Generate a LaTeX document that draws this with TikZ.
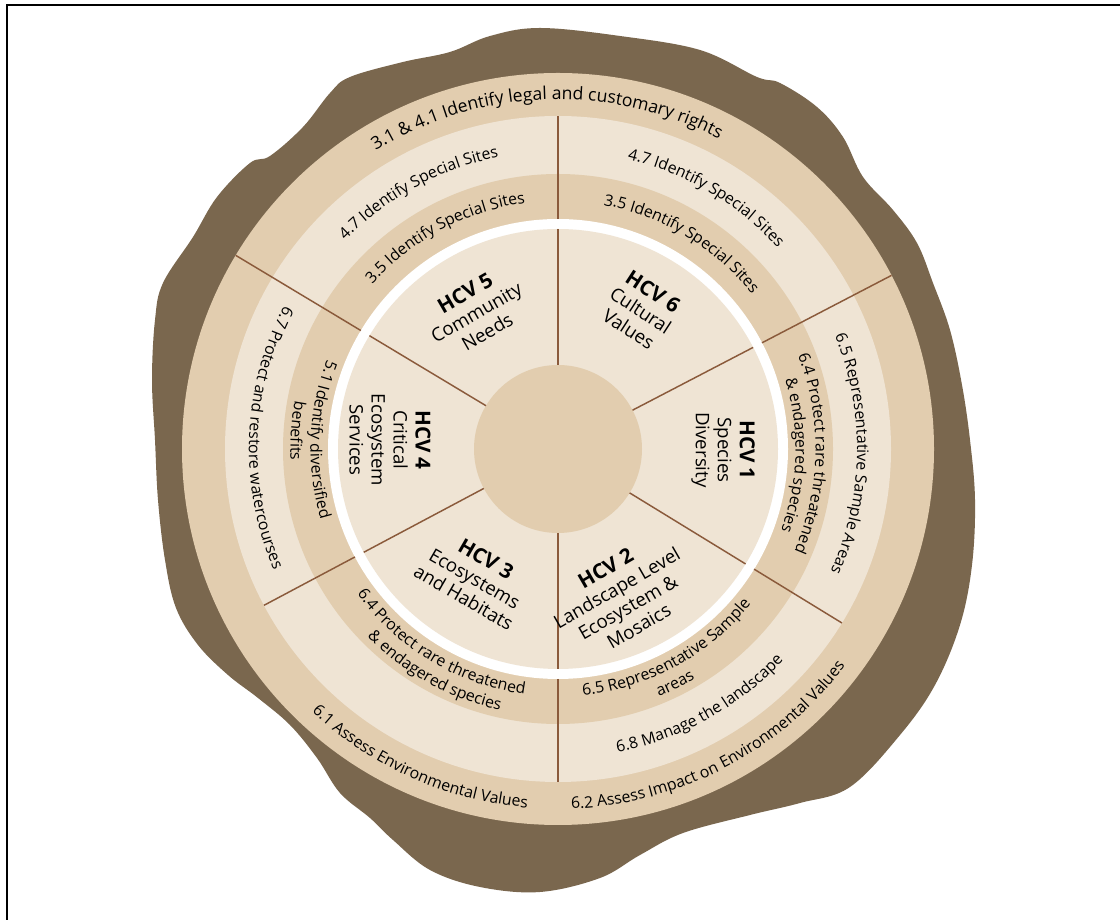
\documentclass[tikz,border=0pt]{standalone}
\usepackage{fontspec}
\setmainfont{Open Sans}
\usetikzlibrary{decorations.text}
\definecolor{bark}{HTML}{7A674E}
\definecolor{tanband}{HTML}{E2CDAF}
\definecolor{lightband}{HTML}{EFE4D4}
\definecolor{divline}{HTML}{8A5A3B}
\definecolor{ringtxt}{HTML}{4A4743}
\newcommand{\rf}{\fontsize{11.9}{13}\selectfont}
\newcommand{\rfbig}{\fontsize{13.2}{14}\selectfont}
\tikzset{
  divider/.style={draw=divline, line width=1.1pt},
  ringtext/.style={color=ringtxt},
  hcv/.style={align=center, font=\fontsize{14}{16.5}\selectfont, text=black, inner sep=0pt}
}
\newcommand{\hb}[1]{{\fontsize{15.5}{16.5}\selectfont\bfseries #1}}
\newcommand{\cwtext}[4][\rf]{\path[ringtext, decoration={text along path, text={|#1|#4}, text align=center}, decorate] (#2+75:#3) arc[start angle=#2+75, end angle=#2-75, radius=#3];}
\newcommand{\ccwtext}[4][\rf]{\path[ringtext, decoration={text along path, text={|#1|#4}, text align=center}, decorate] (#2-75:#3) arc[start angle=#2-75, end angle=#2+75, radius=#3];}
\begin{document}
\begin{tikzpicture}[x=0.75pt,y=0.75pt]
\useasboundingbox (0,0) rectangle (1120,920);
\fill[white] (0,0) rectangle (1120,920);
\draw[line width=1.6pt] (7,0) -- (7,915) -- (1120,915);
% bark
\fill[bark] plot[smooth cycle, tension=0.6] coordinates {
(540,892) (620,884) (700,870) (757,843) (780,837) (817,813) (843,783) (863,743)
(893,710) (917,677) (933,637) (950,590) (962,535) (970,480) (975,420) (972,355)
(960,295) (935,235) (900,185) (850,133) (800,117) (750,105) (683,87) (640,65)
(600,42) (540,28) (480,33) (430,50) (393,80) (370,102) (340,127) (317,162)
(290,195) (258,222) (228,245) (198,275) (176,312) (165,360) (158,420) (155,480)
(152,540) (155,600) (163,637) (193,683) (217,723) (250,757) (270,764) (303,793)
(330,827) (350,843) (403,858) (450,868) (490,884)};
\begin{scope}[shift={(558,471)}]
  \fill[tanband] (0,0) circle[radius=376];
  \fill[lightband] (0,0) circle[radius=333];
  \fill[tanband] (0,0) circle[radius=275];
  \fill[white] (0,0) circle[radius=230];
  \fill[lightband] (0,0) circle[radius=220];
  \fill[tanband] (0,0) circle[radius=84];
  \foreach \a/\r in {90/333, 27.5/376, -31.5/333, -90/333, 208/333, 149/376} {
    \draw[divider] (\a:84) -- (\a:220);
    \draw[divider] (\a:230) -- (\a:\r);
  }
  % clockwise texts (tops outward)
  \cwtext[\rfbig]{92}{349.5}{3.1 {\&} 4.1 Identify legal and customary rights}
  \cwtext{118.5}{298}{4.7 Identify Special Sites}
  \cwtext{118}{248}{3.5 Identify Special Sites}
  \cwtext{59.5}{298}{4.7 Identify Special Sites}
  \cwtext{59}{248}{3.5 Identify Special Sites}
  \cwtext{-1}{299}{6.5 Representative Sample Areas}
  \cwtext{-1}{257.5}{6.4 Protect rare threatened}
  \cwtext{-1.5}{237.5}{{\&} endagered species}
  % counter-clockwise texts (tops inward)
  \ccwtext{-62.5}{360}{6.2 Assess Impact on Environmental Values}
  \ccwtext{246}{360}{6.1 Assess Environmental Values}
  \ccwtext{-61}{309}{6.8 Manage the landscape}
  \ccwtext{-61.5}{247.5}{6.5 Representative Sample}
  \ccwtext{-63.5}{267.5}{areas}
  \ccwtext{239}{247.5}{6.4 Protect rare threatened}
  \ccwtext{241}{267.5}{{\&} endagered species}
  \ccwtext{177.7}{309}{6.7 Protect and restore watercourses}
  \ccwtext{177.7}{247.5}{5.1 Identify diversified}
  \ccwtext{176}{267.5}{benefits}
\end{scope}
\node[hcv, rotate=30] (h5) at (476,608) {\hb{HCV 5}\\Community\\Needs};
\node[hcv, rotate=-33] (h6) at (641,610) {\hb{HCV 6}\\Cultural\\Values};
\node[hcv, rotate=-90] (h1) at (723,470) {\hb{HCV 1}\\Species\\Diversity};
\node[hcv, rotate=30] (h2) at (622,323) {\hb{HCV 2}\\Landscape Level\\Ecosystem \&\\Mosaics};
\node[hcv, rotate=-30] (h3) at (475,342) {\hb{HCV 3}\\Ecosystems\\and Habitats};
\node[hcv, rotate=-90] (h4) at (390,480) {\hb{HCV 4}\\Critical\\Ecosystem\\Services};
\end{tikzpicture}
\end{document}
